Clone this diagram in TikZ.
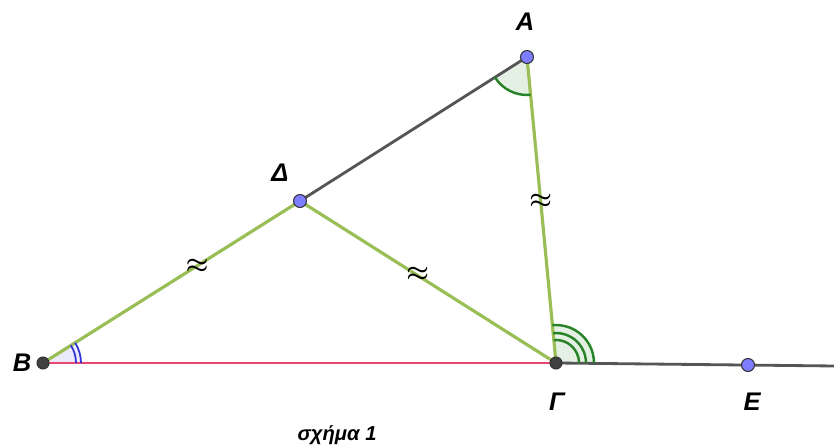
\documentclass[tikz,border=0pt]{standalone}
\usepackage{fontspec}
\setmainfont{Liberation Sans}
\usepackage{amsmath}
\usepackage{tikz}

\definecolor{segGreen}{RGB}{153,190,85}
\definecolor{segGray}{RGB}{85,85,85}
\definecolor{segRed}{RGB}{232,72,112}
\definecolor{arcGreen}{RGB}{40,130,40}
\definecolor{arcBlue}{RGB}{50,50,220}
\definecolor{ptBlue}{RGB}{125,125,255}
\definecolor{ptDark}{RGB}{65,65,65}

\tikzset{
  lbl/.style={font=\fontsize{14.5}{17}\selectfont\bfseries\itshape, inner sep=0pt},
  eqmark/.style={font=\fontsize{15}{17}\selectfont\boldmath, inner sep=0pt},
  ptfree/.style={fill=ptBlue, draw=black!80, line width=0.6pt},
  ptfix/.style={fill=ptDark, draw=black!80, line width=0.6pt}
}

\begin{document}
\begin{tikzpicture}[scale=2]
  \useasboundingbox (0,0) rectangle (8.34,4.45);
  \coordinate (A) at (5.27,3.88);
  \coordinate (D) at (3.00,2.44);
  \coordinate (B) at (0.43,0.82);
  \coordinate (G) at (5.56,0.82);
  \coordinate (E) at (7.48,0.80);
  \coordinate (R) at (8.34,0.79);
  % Angle fills
  \fill[arcGreen!12] (A) -- ++(212.4:0.38) arc[start angle=212.4, end angle=275.4, radius=0.38] -- cycle;
  \fill[arcGreen!12] (G) -- ++(0:0.38) arc[start angle=0, end angle=95.4, radius=0.38] -- cycle;
  \fill[arcBlue!10] (B) -- ++(0:0.38) arc[start angle=0, end angle=32.2, radius=0.38] -- cycle;
  % Segments
  \draw[segGray, line width=1.6pt] (A) -- (D);
  \draw[segGray, line width=1.6pt] (G) -- (R);
  \draw[segGreen, line width=1.8pt] (B) -- (D)
    node[eqmark, text=black, pos=0.6] (m1) {$\approx$};
  \draw[segGreen, line width=1.8pt] (D) -- (G)
    node[eqmark, text=black, pos=0.46, yshift=1pt] (m2) {$\approx$};
  \draw[segGreen, line width=1.8pt] (A) -- (G)
    node[eqmark, text=black, pos=0.47] (m3) {$\approx$};
  \draw[segRed, line width=1.4pt] (B) -- (G);
  % Angle arcs
  \draw[arcGreen, line width=1.4pt] (A) ++(212.4:0.38) arc[start angle=212.4, end angle=275.4, radius=0.38];
  \foreach \r in {0.23,0.30,0.38}
    \draw[arcGreen, line width=1.4pt] (G) ++(0:\r) arc[start angle=0, end angle=95.4, radius=\r];
  \foreach \r in {0.33,0.38}
    \draw[arcBlue, line width=1pt] (B) ++(0:\r) arc[start angle=0, end angle=32.2, radius=\r];
  % Points
  \filldraw[ptfree] (A) circle (0.065);
  \filldraw[ptfree] (D) circle (0.065);
  \filldraw[ptfree] (E) circle (0.065);
  \filldraw[ptfix] (B) circle (0.06);
  \filldraw[ptfix] (G) circle (0.06);
  \node[lbl] (lA) at (5.25,4.23) {Α};
  \node[lbl] (lD) at (2.80,2.72) {Δ};
  \node[lbl] (lB) at (0.22,0.82) {Β};
  \node[lbl] (lG) at (5.57,0.43) {Γ};
  \node[lbl] (lE) at (7.52,0.43) {Ε};
  \node[font=\fontsize{11.5}{14}\selectfont\bfseries\itshape, inner sep=0pt] (cap) at (3.37,0.10) {σχήμα 1};
\end{tikzpicture}
\end{document}
